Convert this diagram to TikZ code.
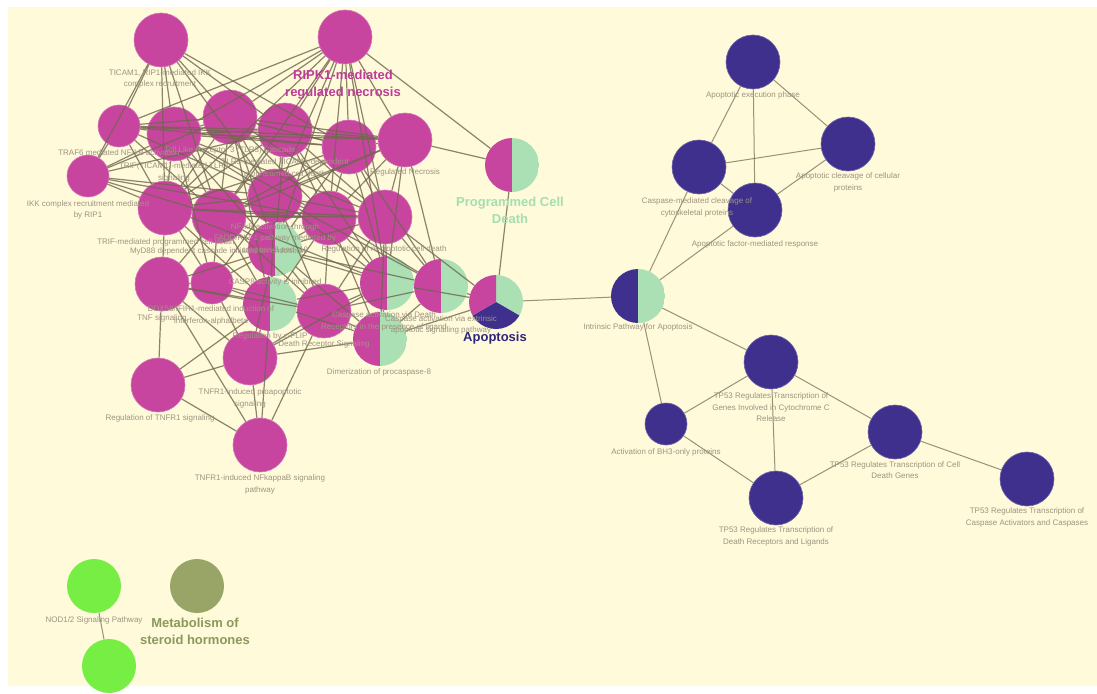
\documentclass[tikz,border=0pt]{standalone}
\usepackage{fontspec}
\setmainfont{Liberation Sans}
\definecolor{paper}{RGB}{254,250,218}
\definecolor{mag}{RGB}{199,69,158}
\definecolor{lgreen}{RGB}{170,224,180}
\definecolor{dblue}{RGB}{62,48,140}
\definecolor{bgreen}{RGB}{119,238,68}
\definecolor{olive}{RGB}{152,165,102}
\definecolor{edgec}{RGB}{112,102,78}
\definecolor{lblc}{RGB}{158,148,128}
\definecolor{magtxt}{RGB}{190,60,150}
\definecolor{pcdtxt}{RGB}{165,222,176}
\definecolor{apotxt}{RGB}{48,38,122}
\definecolor{olvtxt}{RGB}{140,152,92}
\begin{document}
\begin{tikzpicture}[x=1pt,y=-1pt,
  vtx/.style={circle, inner sep=0pt, minimum size=54pt},
  small/.style={minimum size=42pt},
  mg/.style={vtx, fill=mag, draw=mag!75!white, line width=0.6pt},
  db/.style={vtx, fill=dblue, draw=dblue!75!white, line width=0.6pt},
  gr/.style={vtx, fill=bgreen},
  ol/.style={vtx, fill=olive},
  halfnode/.style 2 args={vtx, path picture={
      \fill[#1] (path picture bounding box.north west) rectangle (path picture bounding box.south);
      \fill[#2] (path picture bounding box.north) rectangle (path picture bounding box.south east);}},
  pienode/.style={vtx, path picture={
      \fill[lgreen] (path picture bounding box.center) -- ++(90:30pt) arc[start angle=90, end angle=-30, radius=30pt] -- cycle;
      \fill[dblue] (path picture bounding box.center) -- ++(-30:30pt) arc[start angle=-30, end angle=-150, radius=30pt] -- cycle;
      \fill[mag] (path picture bounding box.center) -- ++(-150:30pt) arc[start angle=-150, end angle=-270, radius=30pt] -- cycle;}},
  link/.style={draw=edgec, line width=1.2pt, opacity=0.8},
  thin/.style={line width=1pt, opacity=0.7},
  lbl/.style={text=lblc, font=\fontsize{8}{11.5}\selectfont, align=center, inner sep=0pt},
  big/.style={font=\bfseries\fontsize{13}{17}\selectfont, align=center, inner sep=0pt},
]
% page and panel
\fill[white] (0,0) rectangle (1097,693);
\fill[paper] (8,7) rectangle (1097,686);
\useasboundingbox (0,0) rectangle (1097,693);

% necrosis / death-receptor cluster
\node[mg] (a1) at (161,40) {};
\node[mg] (a2) at (345,37) {};
\node[mg,small] (a3) at (119,126) {};
\node[mg] (a4) at (174,134) {};
\node[mg] (a5) at (230,117) {};
\node[mg] (a6) at (285,130) {};
\node[mg] (a7) at (349,147) {};
\node[mg] (a8) at (405,140) {};
\node[mg,small] (a9) at (88,176) {};
\node[mg] (a10) at (165,208) {};
\node[mg] (a11) at (219,216) {};
\node[mg] (a12) at (275,196) {};
\node[mg] (a13) at (329,218) {};
\node[mg] (a14) at (385,217) {};
\node[mg] (a15) at (162,284) {};
\node[mg,small] (a16) at (212,283) {};
\node[mg] (a17) at (324,311) {};
\node[mg] (a18) at (250,358) {};
\node[mg] (a19) at (158,385) {};
\node[mg] (a20) at (260,445) {};
\node[halfnode={mag}{lgreen}] (h1) at (275,249) {};
\node[halfnode={mag}{lgreen}] (h2) at (270,304) {};
\node[halfnode={mag}{lgreen}] (h3) at (387,283) {};
\node[halfnode={mag}{lgreen}] (h4) at (441,286) {};
\node[halfnode={mag}{lgreen}] (h5) at (380,339) {};
\node[halfnode={mag}{lgreen}] (pcd) at (512,165) {};
\node[pienode] (apo) at (496,302) {};
\node[halfnode={dblue}{lgreen}] (ipa) at (638,296) {};

% apoptosis cluster
\node[db] (b1) at (753,62) {};
\node[db] (b2) at (848,144) {};
\node[db] (b3) at (699,167) {};
\node[db] (b4) at (755,210) {};
\node[db] (b5) at (771,362) {};
\node[db,small] (b6) at (666,424) {};
\node[db] (b7) at (895,432) {};
\node[db] (b8) at (776,498) {};
\node[db] (b9) at (1027,479) {};

% NOD and steroid terms
\node[gr] (g1) at (94,586) {};
\node[gr] (g2) at (109,666) {};
\node[ol] (g3) at (197,586) {};

% connections inside the necrosis / death-receptor cluster
\foreach \s/\t in {
  a1/a3,a1/a4,a1/a5,a1/a6,a1/a9,a1/a10,a1/a11,a1/a12,a1/a7,
  a2/a4,a2/a5,a2/a6,a2/a7,a2/a8,a2/a10,a2/a11,a2/a12,a2/a13,a2/a14,a2/h1,a2/h3,a2/pcd,a2/a3,
  a3/a4,a3/a5,a3/a6,a3/a9,a3/a10,a3/a11,a3/a12,a3/a7,a3/a8,
  a9/a4,a9/a10,a9/a11,a9/a12,a9/a6,a9/a5,a9/a13,
  a4/a5,a4/a6,a4/a7,a4/a8,a4/a10,a4/a11,a4/a12,a4/a13,a4/a14,a4/h1,a4/a16,
  a5/a6,a5/a7,a5/a8,a5/a10,a5/a11,a5/a12,a5/a13,a5/a14,a5/h1,a5/h2,
  a6/a7,a6/a8,a6/a10,a6/a11,a6/a12,a6/a13,a6/a14,a6/h1,a6/h3,
  a7/a8,a7/a10,a7/a11,a7/a12,a7/a13,a7/a14,a7/h1,a7/h3,a7/h4,
  a8/a11,a8/a12,a8/a13,a8/a14,a8/h3,a8/h4,a8/pcd,
  a10/a11,a10/a12,a10/a13,a10/a14,a10/h1,a10/a15,a10/a16,a10/h2,
  a11/a12,a11/a13,a11/a14,a11/h1,a11/h2,a11/a15,a11/a16,a11/a17,a11/h3,
  a12/a13,a12/a14,a12/h1,a12/h2,a12/h3,a12/a16,a12/a17,a12/h4,
  a13/a14,a13/h1,a13/h2,a13/h3,a13/h4,a13/a17,a13/h5,
  a14/h1,a14/h3,a14/h4,a14/a17,a14/h5,a14/apo,
  h1/h2,h1/h3,h1/h4,h1/a16,h1/a17,h1/h5,h1/a15,h1/a18,
  h2/h3,h2/a16,h2/a17,h2/h5,h2/a15,h2/a18,h2/a19,h2/a20,
  h3/h4,h3/a17,h3/h5,h3/apo,h3/a18,
  h4/h5,h4/apo,h4/a17,
  h5/a17,h5/apo,h5/a18,
  a15/a16,a15/a19,a15/a18,a15/a20,a15/a17,
  a16/a17,a16/a18,a17/a18,a17/a20,a18/a19,a18/a20,a19/a20,
  pcd/apo}
  \draw[link] (\s) -- (\t);

% connections of the apoptosis cluster and the NOD pair
\foreach \s/\t in {
  apo/ipa,ipa/b3,ipa/b4,ipa/b5,ipa/b6,
  b1/b2,b1/b3,b1/b4,b3/b2,b3/b4,b2/b4,
  b5/b6,b5/b7,b5/b8,b6/b8,b7/b8,b7/b9,
  g1/g2}
  \draw[link,thin] (\s) -- (\t);

% term labels
\node[lbl] (l1) at (160,79) {TICAM1, RIP1-mediated IKK\\complex recruitment};
\node[lbl] (l3) at (119,153) {TRAF6 mediated NF-kB activation};
\node[lbl] (l5) at (230,150) {Toll Like Receptor 3 (TLR3) Cascade};
\node[lbl] (l4) at (174,172.5) {TRIF(TICAM1)-mediated TLR4\\signaling};
\node[lbl] (l6) at (285,168.5) {TLR3-mediated TICAM1-dependent\\programmed cell death};
\node[lbl] (l8) at (405,172) {Regulated Necrosis};
\node[lbl] (l9) at (88,210) {IKK complex recruitment mediated\\by RIP1};
\node[lbl] (l12) at (275,238.5) {NF-kB activation through\\FADD/RIP-1 pathway mediated by\\caspase-8 and -10};
\node[lbl] (l10) at (166,242) {TRIF-mediated programmed cell death};
\node[lbl] (l11) at (219,251) {MyD88 dependent cascade initiated on endosome};
\node[lbl] (l14) at (384,249) {Regulation of necroptotic cell death};
\node[lbl] (lh1) at (275,282) {CASP8 activity is inhibited};
\node[lbl] (l16) at (211,315.5) {DDX58/IFIH1-mediated induction of\\interferon-alpha/beta};
\node[lbl] (l15) at (162,318) {TNF signaling};
\node[lbl] (lh3) at (384,321.5) {Caspase activation via Death\\Receptors in the presence of ligand};
\node[lbl] (lh4) at (441,325) {Caspase activation via extrinsic\\apoptotic signalling pathway};
\node[lbl] (lh2) at (270,336) {Regulation by c-FLIP};
\node[lbl] (l17) at (324,344) {Death Receptor Signaling};
\node[lbl] (lh5) at (379,372) {Dimerization of procaspase-8};
\node[lbl] (l18) at (250,398.5) {TNFR1-induced proapoptotic\\signaling};
\node[lbl] (l19) at (160,418) {Regulation of TNFR1 signaling};
\node[lbl] (l20) at (260,484.5) {TNFR1-induced NFkappaB signaling\\pathway};
\node[lbl] (lb1) at (753,95) {Apoptotic execution phase};
\node[lbl] (lb2) at (848,182.5) {Apoptotic cleavage of cellular\\proteins};
\node[lbl] (lb3) at (697,207.5) {Caspase-mediated cleavage of\\cytoskeletal proteins};
\node[lbl] (lb4) at (755,244) {Apoptotic factor-mediated response};
\node[lbl] (lipa) at (638,327) {Intrinsic Pathway for Apoptosis};
\node[lbl] (lb5) at (771,407.5) {TP53 Regulates Transcription of\\Genes Involved in Cytochrome C\\Release};
\node[lbl] (lb6) at (666,452) {Activation of BH3-only proteins};
\node[lbl] (lb7) at (895,470) {TP53 Regulates Transcription of Cell\\Death Genes};
\node[lbl] (lb8) at (776,536.5) {TP53 Regulates Transcription of\\Death Receptors and Ligands};
\node[lbl] (lb9) at (1027,517.5) {TP53 Regulates Transcription of\\Caspase Activators and Caspases};
\node[lbl] (lg1) at (94,620) {NOD1/2 Signaling Pathway};

% group titles
\node[big, text=magtxt] (t1) at (343,85) {RIPK1-mediated\\regulated necrosis};
\node[big, text=pcdtxt] (t2) at (510,210.5) {Programmed Cell\\Death};
\node[big, text=apotxt] (t3) at (495,338) {Apoptosis};
\node[big, text=olvtxt] (t4) at (195,631.5) {Metabolism of\\steroid hormones};
\end{tikzpicture}
\end{document}
